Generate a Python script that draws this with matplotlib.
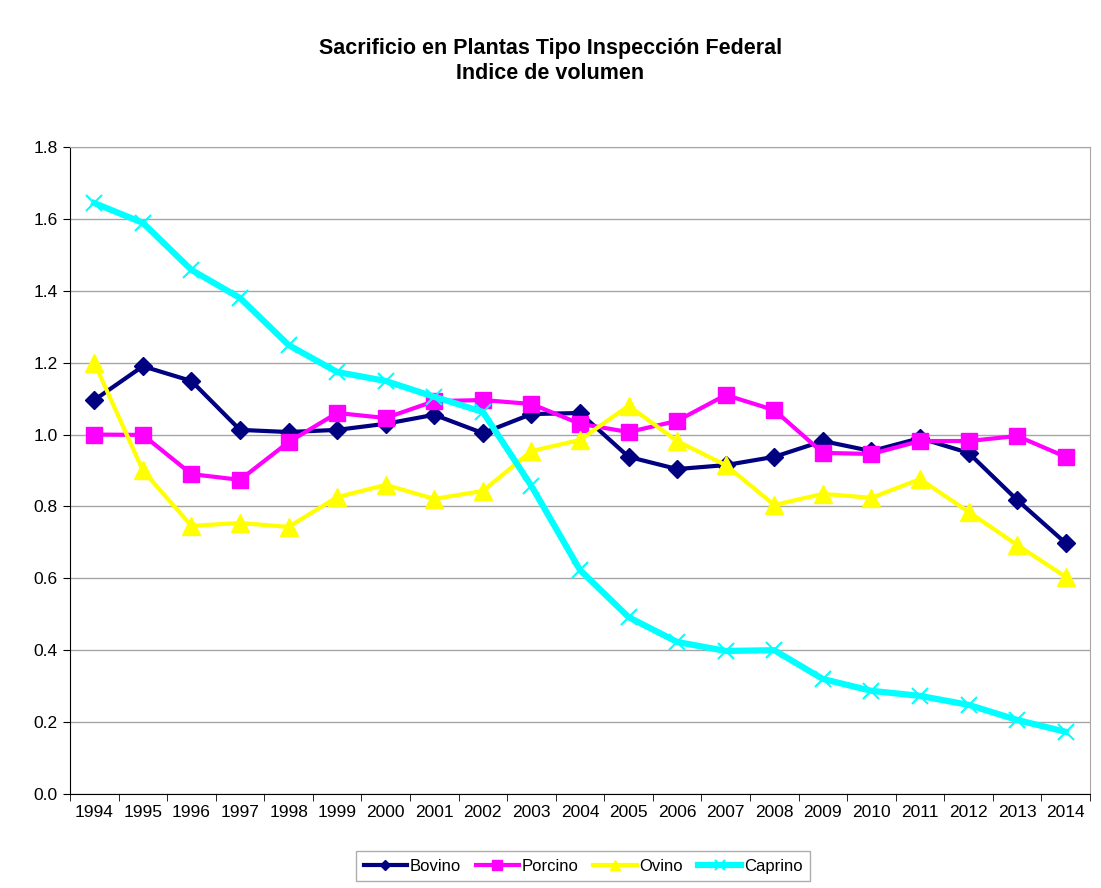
import numpy as np
import matplotlib.pyplot as plt

plt.rcParams["font.family"] = ["Liberation Sans", "DejaVu Sans"]

years = list(range(1994, 2015))

bovino = [1.096, 1.19, 1.149, 1.013, 1.007, 1.013, 1.03, 1.055, 1.004, 1.057, 1.06,
          0.938, 0.904, 0.915, 0.938, 0.982, 0.954, 0.99, 0.949, 0.818, 0.698]
porcino = [1.0, 0.999, 0.89, 0.874, 0.979, 1.06, 1.046, 1.093, 1.096, 1.085, 1.03,
           1.007, 1.038, 1.11, 1.068, 0.949, 0.946, 0.982, 0.982, 0.996, 0.938]
ovino = [1.2, 0.90, 0.746, 0.754, 0.743, 0.826, 0.86, 0.821, 0.843, 0.954, 0.985,
         1.08, 0.982, 0.915, 0.804, 0.835, 0.824, 0.876, 0.785, 0.693, 0.604]
caprino = [1.644, 1.589, 1.458, 1.38, 1.249, 1.174, 1.149, 1.105, 1.063, 0.857, 0.623,
           0.492, 0.423, 0.398, 0.40, 0.32, 0.287, 0.273, 0.248, 0.206, 0.173]

fig = plt.figure(figsize=(11.01, 8.88), dpi=100)
ax = fig.add_axes([70/1101, 1-794/888, 1020/1101, 647/888])

x = np.arange(len(years))
ax.plot(x, bovino, color="#000080", lw=3, marker="D", ms=9, label="Bovino")
ax.plot(x, porcino, color="#FF00FF", lw=3, marker="s", ms=12, label="Porcino")
ax.plot(x, ovino, color="#FFFF00", lw=3, marker="^", ms=13, label="Ovino")
ax.plot(x, caprino, color="#00FFFF", lw=4.5, marker="x", ms=12, mew=1.5, label="Caprino")

ax.set_xlim(-0.5, len(years)-0.5)
ax.set_ylim(0, 1.8)
ax.set_yticks(np.arange(0, 1.81, 0.2))
ax.set_yticklabels([f"{v:.1f}" for v in np.arange(0, 1.81, 0.2)])
ax.set_xticks(x)
ax.set_xticklabels([str(y) for y in years])
ax.set_xticks(np.arange(-0.5, len(years), 1), minor=True)
ax.tick_params(axis="x", which="major", length=0, labelsize=12.5, pad=8)
ax.tick_params(axis="x", which="minor", length=5, direction="out")
ax.tick_params(axis="y", length=5, direction="out", labelsize=12.5, pad=4)
ax.yaxis.grid(True, color="#a6a6a6", lw=1)
ax.set_axisbelow(True)
for s in ["top", "right"]:
    ax.spines[s].set_color("#a6a6a6")
for s in ["left", "bottom"]:
    ax.spines[s].set_color("black")

fig.text(0.5, 1-61/888, "Sacrificio en Plantas Tipo Inspección Federal\nIndice de volumen",
         ha="center", va="center", fontsize=15.5, fontweight="bold", linespacing=1.25)

leg = ax.legend(loc="center", bbox_to_anchor=(583/1101, 1-866/888), bbox_transform=fig.transFigure,
                ncol=4, frameon=True, fancybox=False, edgecolor="#999999", fontsize=12,
                handlelength=2.6, handletextpad=0.15, columnspacing=0.9, borderpad=0.45,
                markerscale=0.55)
leg.get_frame().set_linewidth(1)

fig.savefig("out.png", dpi=100)
